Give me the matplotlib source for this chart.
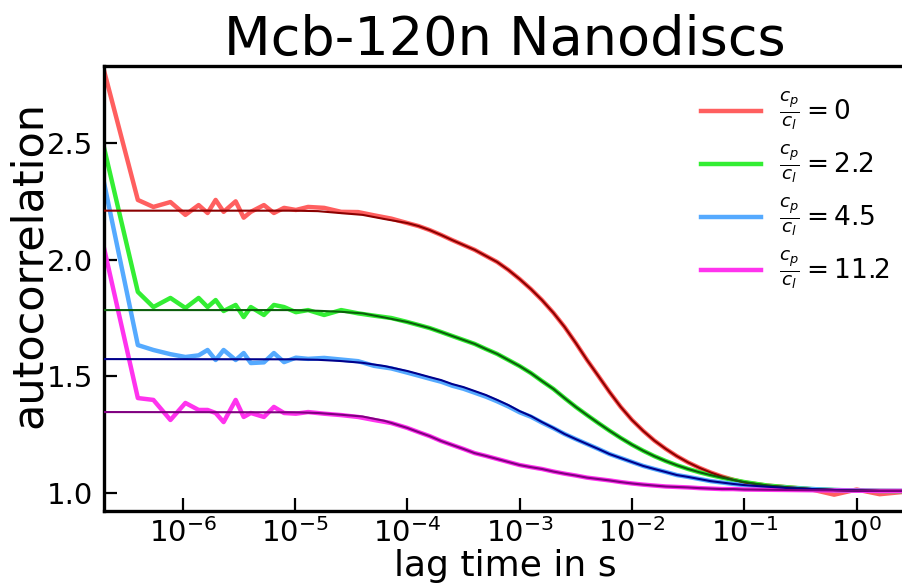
import matplotlib
matplotlib.use("Agg")
import matplotlib.pyplot as plt

plt.rcParams['font.family'] = ['DejaVu Sans']
plt.rcParams['mathtext.fontset'] = 'dejavusans'

# ---- measured correlation curves ----
tau_data = [2.0e-7, 4.0e-7, 5.5e-7, 7.8e-7, 1.06e-6, 1.39e-6, 1.67e-6, 1.97e-6,
            2.32e-6, 2.97e-6, 3.5e-6, 4.05e-6, 5.3e-6, 6.5e-6, 8.0e-6, 1.02e-5,
            1.31e-5, 1.82e-5, 2.58e-5, 3.65e-5, 5.07e-5, 7.2e-5,
            1.0e-4, 1.26e-4, 1.58e-4, 2.0e-4, 2.51e-4, 3.16e-4, 3.98e-4, 5.01e-4,
            6.31e-4, 7.94e-4, 1.0e-3, 1.26e-3, 1.58e-3, 2.0e-3, 2.51e-3, 3.16e-3,
            3.98e-3, 5.01e-3, 6.31e-3, 7.94e-3, 1.0e-2, 1.26e-2, 1.58e-2, 2.0e-2,
            2.51e-2, 3.16e-2, 3.98e-2, 5.01e-2, 6.31e-2, 7.94e-2, 0.1, 0.16,
            0.25, 0.4, 0.63, 1.0, 1.6, 2.5]

g_r0 = [2.81, 2.256, 2.226, 2.247, 2.192, 2.234, 2.200, 2.256, 2.205, 2.250,
        2.180, 2.205, 2.234, 2.200, 2.222, 2.213, 2.226, 2.222, 2.205, 2.204,
        2.190, 2.176,
        2.157, 2.144, 2.127, 2.106, 2.084, 2.063, 2.042, 2.016, 1.990, 1.956,
        1.917, 1.874, 1.827, 1.772, 1.712, 1.643, 1.570, 1.502, 1.433, 1.369,
        1.313, 1.266, 1.225, 1.189, 1.158, 1.131, 1.108, 1.088, 1.071, 1.057,
        1.045, 1.032, 1.024, 1.015, 0.993, 1.015, 0.995, 1.004]
g_r22 = [2.48, 1.862, 1.797, 1.836, 1.793, 1.836, 1.797, 1.827, 1.780, 1.806,
         1.754, 1.797, 1.763, 1.806, 1.797, 1.775, 1.784, 1.763, 1.784, 1.770,
         1.760, 1.750,
         1.733, 1.720, 1.707, 1.690, 1.673, 1.656, 1.639, 1.617, 1.596, 1.570,
         1.544, 1.514, 1.480, 1.446, 1.407, 1.369, 1.334, 1.300, 1.267, 1.236,
         1.207, 1.181, 1.158, 1.137, 1.119, 1.103, 1.089, 1.077, 1.066, 1.056,
         1.047, 1.032, 1.024, 1.017, 1.013, 1.010, 1.009, 1.008]
g_r45 = [2.33, 1.634, 1.613, 1.595, 1.583, 1.590, 1.613, 1.570, 1.613, 1.570,
         1.600, 1.557, 1.560, 1.600, 1.561, 1.580, 1.575, 1.579, 1.572, 1.565,
         1.545, 1.534,
         1.516, 1.503, 1.490, 1.477, 1.460, 1.447, 1.430, 1.413, 1.393, 1.371,
         1.346, 1.327, 1.302, 1.278, 1.253, 1.231, 1.210, 1.189, 1.167, 1.150,
         1.133, 1.116, 1.103, 1.090, 1.077, 1.069, 1.060, 1.051, 1.045, 1.039,
         1.034, 1.027, 1.021, 1.017, 1.013, 1.011, 1.009, 1.009]
g_r112 = [2.05, 1.407, 1.399, 1.313, 1.386, 1.356, 1.356, 1.343, 1.304, 1.399,
          1.326, 1.343, 1.326, 1.369, 1.343, 1.340, 1.347, 1.340, 1.334, 1.326,
          1.313, 1.300,
          1.279, 1.261, 1.244, 1.223, 1.206, 1.189, 1.171, 1.159, 1.146, 1.133,
          1.120, 1.111, 1.103, 1.092, 1.083, 1.075, 1.066, 1.060, 1.054, 1.047,
          1.041, 1.036, 1.032, 1.028, 1.026, 1.024, 1.021, 1.019, 1.017, 1.017,
          1.015, 1.014, 1.013, 1.012, 1.011, 1.010, 1.009, 1.009]

# ---- fitted model curves ----
tau_fit = [2.0e-7, 1.0e-5, 1.6e-5, 2.5e-5, 4.0e-5, 6.3e-5,
           1.0e-4, 1.26e-4, 1.58e-4, 2.0e-4, 2.51e-4, 3.16e-4, 3.98e-4, 5.01e-4,
           6.31e-4, 7.94e-4, 1.0e-3, 1.26e-3, 1.58e-3, 2.0e-3, 2.51e-3, 3.16e-3,
           3.98e-3, 5.01e-3, 6.31e-3, 7.94e-3, 1.0e-2, 1.26e-2, 1.58e-2, 2.0e-2,
           2.51e-2, 3.16e-2, 3.98e-2, 5.01e-2, 6.31e-2, 7.94e-2, 0.1, 0.16,
           0.25, 0.4, 0.63, 1.0, 1.6, 2.5]
fit_r0 = [2.210, 2.210, 2.208, 2.200, 2.192, 2.174,
          2.157, 2.144, 2.127, 2.106, 2.084, 2.063, 2.042, 2.016, 1.990, 1.956,
          1.917, 1.874, 1.827, 1.772, 1.712, 1.643, 1.570, 1.502, 1.433, 1.369,
          1.313, 1.266, 1.225, 1.189, 1.158, 1.131, 1.108, 1.088, 1.071, 1.057,
          1.045, 1.032, 1.024, 1.017, 1.013, 1.011, 1.009, 1.009]
fit_r22 = [1.784, 1.784, 1.781, 1.777, 1.770, 1.752,
           1.733, 1.720, 1.707, 1.690, 1.673, 1.656, 1.639, 1.617, 1.596, 1.570,
           1.544, 1.514, 1.480, 1.446, 1.407, 1.369, 1.334, 1.300, 1.267, 1.236,
           1.207, 1.181, 1.158, 1.137, 1.119, 1.103, 1.089, 1.077, 1.066, 1.056,
           1.047, 1.032, 1.024, 1.017, 1.013, 1.011, 1.009, 1.009]
fit_r45 = [1.574, 1.573, 1.571, 1.566, 1.558, 1.544,
           1.523, 1.510, 1.497, 1.484, 1.467, 1.454, 1.437, 1.420, 1.399, 1.377,
           1.351, 1.330, 1.304, 1.279, 1.253, 1.231, 1.210, 1.189, 1.167, 1.150,
           1.133, 1.116, 1.103, 1.090, 1.077, 1.069, 1.060, 1.051, 1.045, 1.039,
           1.034, 1.027, 1.021, 1.017, 1.013, 1.011, 1.009, 1.009]
fit_r112 = [1.347, 1.346, 1.343, 1.336, 1.328, 1.309,
            1.279, 1.261, 1.244, 1.223, 1.206, 1.189, 1.171, 1.159, 1.146, 1.133,
            1.120, 1.111, 1.103, 1.092, 1.083, 1.075, 1.066, 1.060, 1.054, 1.047,
            1.041, 1.036, 1.032, 1.028, 1.026, 1.024, 1.021, 1.019, 1.017, 1.017,
            1.015, 1.014, 1.013, 1.012, 1.011, 1.010, 1.009, 1.009]

labels = [r'$\frac{c_p}{c_l} = 0$', r'$\frac{c_p}{c_l} = 2.2$',
          r'$\frac{c_p}{c_l} = 4.5$', r'$\frac{c_p}{c_l} = 11.2$']
data_colors = ['#ff5f5f', '#33ee33', '#55aaff', '#ff33ee']
fit_colors = ['#8b0000', '#0b5e0b', '#00008b', '#800080']

fig = plt.figure(figsize=(9.03, 5.83), dpi=100)
ax = fig.add_axes([0.1152, 0.1235, 0.888, 0.7633])

series = [g_r0, g_r22, g_r45, g_r112]
fits = [fit_r0, fit_r22, fit_r45, fit_r112]
for g, f, lab, dc, fc in zip(series, fits, labels, data_colors, fit_colors):
    ax.plot(tau_data, g, color=dc, lw=3.2, label=lab, zorder=2,
            solid_joinstyle='round')
    ax.plot(tau_fit, f, color=fc, lw=1.5, zorder=3)

ax.set_xscale('log')
ax.set_xlim(2.0e-7, 2.74)
ax.set_ylim(0.923, 2.83)
ax.set_yticks([1.0, 1.5, 2.0, 2.5])
ax.set_xticks([1e-6, 1e-5, 1e-4, 1e-3, 1e-2, 1e-1, 1e0])
ax.xaxis.set_minor_locator(matplotlib.ticker.NullLocator())
ax.tick_params(axis='both', which='major', direction='in', length=9.5,
               width=1.6, labelsize=21)
ax.tick_params(axis='y', pad=8)
ax.tick_params(axis='x', pad=5)
for s in ax.spines.values():
    s.set_linewidth(2.4)

ax.set_title('Mcb-120n Nanodiscs', fontsize=39, pad=4)
ax.set_xlabel('lag time in s', fontsize=26, labelpad=0.5)
ax.set_ylabel('autocorrelation', fontsize=31)
ax.yaxis.set_label_coords(-0.068, 0.555)

leg = ax.legend(loc='upper right', fontsize=19, frameon=False,
                handlelength=2.25, handletextpad=0.7, labelspacing=0.4,
                bbox_to_anchor=(1.01, 1.0))

fig.savefig('out.png', dpi=100)
